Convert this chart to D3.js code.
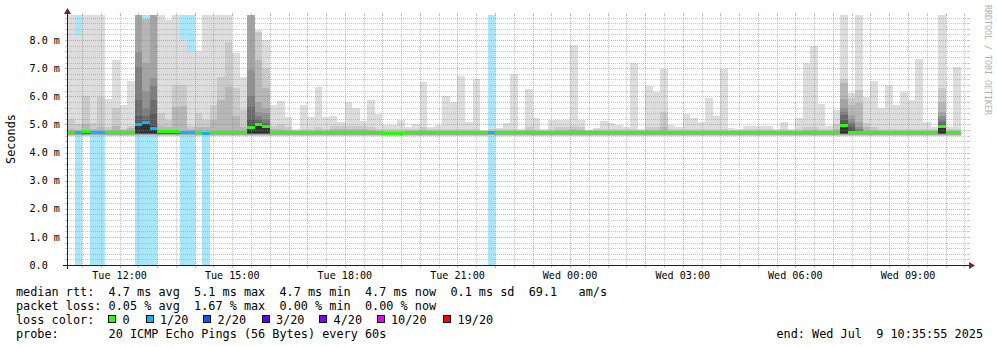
<!DOCTYPE html>
<html>
<head>
<meta charset="utf-8">
<script src="https://cdn.jsdelivr.net/npm/d3@7"></script>
<style>
  html, body { margin: 0; padding: 0; background: #fff; }
  svg { display: block; }
  text { font-family: "DejaVu Sans Mono", monospace; white-space: pre; }
</style>
</head>
<body>
<svg id="chart"></svg>
<script>
// ---- data (ms), one value per 12 minute step, 10:36 Tue -> 10:36 Wed ----
const firstStep = new Date(2025, 6, 8, 10, 36, 0);
const stepMinutes = 12;

// highest ping of each step (top of the lightest smoke)
const rttMax = [
  9.5, 8.18, 9.5, 9.5, 9.5, 5.9, 7.29, 5.69, 6.54, 9.5,
  8.76, 9.5, 9.5, 8.71, 9.5, 8.02, 7.62, 7.62, 9.5, 9.5,
  9.5, 9.5, 7.53, 6.7, 9.5, 8.36, 8.0, 5.69, 5.84, 5.27,
  4.84, 5.69, 5.27, 6.34, 5.27, 5.3, 5.1, 5.8, 5.6, 5.12,
  5.87, 5.38, 4.98, 4.98, 5.16, 4.9, 5.0, 6.5, 4.92, 4.98,
  6.0, 5.8, 6.72, 5.1, 6.6, 4.8, 4.9, 4.88, 5.04, 6.79,
  4.84, 6.26, 5.21, 4.84, 5.16, 5.16, 5.16, 7.82, 5.16, 4.8,
  4.88, 5.12, 5.04, 4.98, 4.9, 7.19, 4.84, 6.36, 6.16, 6.97,
  4.98, 4.9, 5.37, 5.21, 5.1, 5.93, 5.3, 6.97, 4.86, 4.83,
  4.95, 4.95, 4.95, 4.95, 4.84, 5.1, 4.83, 5.24, 7.17, 7.8,
  5.72, 4.93, 5.51, 9.5, 6.1, 9.5, 5.98, 6.54, 5.6, 6.4,
  5.69, 6.16, 5.87, 7.32, 5.1, 4.9, 9.5, 4.92, 7.03, null
];
// second highest ping
const rtt19 = [
  5.2, 5.0, 6.0, 5.05, 5.98, 4.9, 5.58, 4.85, 4.95, 9.5,
  8.76, 9.5, 5.4, 5.15, 6.4, 6.4, 4.95, 5.4, 5.15, 5.69,
  6.7, 7.94, 6.3, 5.5, 9.5, 8.3, 7.0, 4.95, 5.0, 4.9,
  4.8, 4.85, 4.82, 4.9, 4.82, 4.95, 4.95, 4.95, 4.95, 4.95,
  4.9, 4.85, 4.82, 4.82, 4.85, 4.82, 4.82, 4.9, 4.82, 4.82,
  4.85, 4.85, 4.85, 4.85, 4.85, 4.78, 4.82, 4.82, 4.85, 4.85,
  4.8, 4.9, 4.82, 4.8, 4.85, 4.9, 4.9, 4.95, 4.9, 4.8,
  4.82, 4.85, 4.82, 4.82, 4.82, 4.85, 4.8, 4.9, 4.9, 5.45,
  4.82, 4.82, 4.85, 4.82, 4.82, 4.85, 4.82, 4.85, 4.8, 4.8,
  4.85, 4.85, 4.85, 4.85, 4.8, 4.85, 4.8, 4.85, 4.9, 4.9,
  4.85, 4.82, 5.0, 6.6, 5.95, 6.22, 5.05, 4.9, 4.85, 4.85,
  4.85, 4.85, 4.85, 4.85, 4.82, 4.82, 6.3, 4.82, 4.85, null
];
// third highest ping
const rtt18 = [
  4.85, 4.8, 5.0, 4.85, 4.9, 4.8, 4.95, 4.8, 4.87, 9.5,
  8.75, 9.5, 4.95, 4.9, 5.63, 5.65, 4.85, 4.9, 4.9, 5.15,
  5.87, 6.34, 5.3, 4.9, 9.5, 7.29, 6.3, 4.85, 4.85, 4.8,
  4.76, 4.78, 4.76, 4.8, 4.76, 4.82, 4.85, 4.85, 4.85, 4.82,
  4.8, 4.78, 4.76, 4.76, 4.78, 4.76, 4.76, 4.8, 4.76, 4.76,
  4.78, 4.78, 4.78, 4.78, 4.78, 4.75, 4.76, 4.76, 4.78, 4.78,
  4.76, 4.8, 4.76, 4.76, 4.78, 4.8, 4.8, 4.82, 4.8, 4.76,
  4.76, 4.78, 4.76, 4.76, 4.76, 4.78, 4.76, 4.8, 4.8, 4.9,
  4.76, 4.76, 4.78, 4.76, 4.76, 4.78, 4.76, 4.78, 4.76, 4.76,
  4.78, 4.78, 4.78, 4.78, 4.76, 4.78, 4.76, 4.78, 4.8, 4.8,
  4.78, 4.76, 4.85, 6.48, 5.69, 5.76, 4.9, 4.8, 4.78, 4.78,
  4.78, 4.78, 4.78, 4.78, 4.76, 4.76, 5.8, 4.76, 4.78, null
];
// steps where many pings were slow: pings 17 .. 11 (inner smoke)
const darkCols = [9, 10, 11, 24, 25, 26, 103, 104, 105, 116];
const darkRtt = [
  [9.5, 7.58, 7.05, 5.87, 5.3, 5.05, 5.0],
  [7.2, 6.2, 5.6, 5.3, 5.15, 5.08, 5.06],
  [9.5, 6.64, 6.36, 5.87, 5.4, 4.95, 4.9],
  [9.5, 6.93, 6.0, 5.63, 5.2, 4.98, 4.92],
  [5.8, 5.45, 5.3, 5.2, 5.1, 5.05, 5.02],
  [5.6, 5.4, 5.2, 5.05, 5.0, 4.95, 4.93],
  [5.9, 5.58, 5.45, 5.33, 5.15, 5.02, 4.98],
  [5.33, 5.2, 5.1, 5.0, 4.9, 4.8, 4.75],
  [5.1, 4.9, 4.82, 4.78, 4.75, 4.73, 4.72],
  [5.45, 5.3, 5.2, 5.1, 5.0, 4.96, 4.94]
];
// typical lowest pings 1 .. 10
const bandLow = [4.57, 4.6, 4.63, 4.64, 4.645, 4.65, 4.66, 4.67, 4.68, 4.69];

const median = [
  4.7, 4.72, 4.74, 4.7, 4.7, 4.7, 4.71, 4.72, 4.72, 4.98,
  5.06, 4.85, 4.73, 4.73, 4.73, 4.7, 4.7, 4.7, 4.69, 4.7,
  4.7, 4.7, 4.7, 4.7, 4.88, 5.0, 4.92, 4.72, 4.72, 4.71,
  4.7, 4.7, 4.7, 4.7, 4.7, 4.7, 4.7, 4.7, 4.7, 4.7,
  4.7, 4.7, 4.69, 4.69, 4.69, 4.7, 4.7, 4.7, 4.7, 4.7,
  4.7, 4.7, 4.7, 4.7, 4.7, 4.7, 4.7, 4.7, 4.7, 4.7,
  4.7, 4.7, 4.7, 4.7, 4.7, 4.7, 4.7, 4.71, 4.7, 4.7,
  4.7, 4.7, 4.7, 4.7, 4.7, 4.7, 4.7, 4.7, 4.7, 4.7,
  4.7, 4.7, 4.7, 4.7, 4.7, 4.7, 4.7, 4.7, 4.7, 4.7,
  4.7, 4.7, 4.7, 4.7, 4.7, 4.7, 4.7, 4.7, 4.7, 4.7,
  4.7, 4.7, 4.7, 4.95, 4.7, 4.72, 4.7, 4.7, 4.7, 4.7,
  4.7, 4.7, 4.7, 4.7, 4.7, 4.7, 4.93, 4.7, 4.7, null
];
// lost pings out of 20
const loss = [
  0, 1, 0, 1, 1, 0, 0, 0, 0, 1,
  1, 1, 0, 0, 0, 1, 1, 0, 1, 0,
  0, 0, 0, 0, 0, 0, 0, 0, 0, 0,
  0, 0, 0, 0, 0, 0, 0, 0, 0, 0,
  0, 0, 0, 0, 0, 0, 0, 0, 0, 0,
  0, 0, 0, 0, 0, 0, 1, 0, 0, 0,
  0, 0, 0, 0, 0, 0, 0, 0, 0, 0,
  0, 0, 0, 0, 0, 0, 0, 0, 0, 0,
  0, 0, 0, 0, 0, 0, 0, 0, 0, 0,
  0, 0, 0, 0, 0, 0, 0, 0, 0, 0,
  0, 0, 0, 0, 0, 0, 0, 0, 0, 0,
  0, 0, 0, 0, 0, 0, 0, 0, 0, null
];

const lossLevels = [0, 1, 2, 3, 4, 10, 19];
const lossLabels = ["0", "1/20", "2/20", "3/20", "4/20", "10/20", "19/20"];
const lossColors = ["#26ff00", "#00b8ff", "#0059ff", "#5e00ff", "#7e00ff", "#dd00ff", "#ff0000"];

const yTickValues = [0, 1, 2, 3, 4, 5, 6, 7, 8];
const yTickLabels = ["0.0", "1.0 m", "2.0 m", "3.0 m", "4.0 m", "5.0 m", "6.0 m", "7.0 m", "8.0 m"];

const legendLines = [
  "median rtt:  4.7 ms avg  5.1 ms max  4.7 ms min  4.7 ms now  0.1 ms sd  69.1   am/s",
  "packet loss: 0.05 % avg  1.67 % max  0.00 % min  0.00 % now",
  "loss color:",
  "probe:       20 ICMP Echo Pings (56 Bytes) every 60s"
];
const endLabel = "end: Wed Jul  9 10:35:55 2025";

// ---- layout ----
const W = 997, H = 347;
const X0 = 67, X1 = 968, Y0 = 265, Y1 = 15;
const tStart = new Date(2025, 6, 8, 10, 35, 55);
const tEnd = new Date(2025, 6, 9, 10, 35, 55);
const legendFont = "11.83px";

const svg = d3.select("#chart").attr("width", W).attr("height", H);

const x = d3.scaleTime().domain([tStart, tEnd]).range([X0, X1]);
const y = d3.scaleLinear().domain([0, 8.889]).range([Y0, Y1]);
const lossColor = d3.scaleThreshold().domain(lossLevels.slice(1)).range(lossColors);

svg.append("defs").append("clipPath").attr("id", "plot")
  .append("rect").attr("x", X0).attr("y", Y1).attr("width", X1 - X0).attr("height", Y0 - Y1);

const steps = rttMax.map((v, i) => {
  const t0 = d3.timeMinute.offset(firstStep, i * stepMinutes);
  const t1 = d3.timeMinute.offset(firstStep, (i + 1) * stepMinutes);
  return { i, t0, t1, max: v, med: median[i], loss: loss[i] };
}).filter(d => d.max != null);

const plot = svg.append("g").attr("clip-path", "url(#plot)").attr("shape-rendering", "crispEdges");

// loss background
plot.selectAll("rect.lossbg")
  .data(steps.filter(d => d.loss > 0))
  .join("rect")
  .attr("class", "lossbg")
  .attr("x", d => x(d.t0))
  .attr("width", d => x(d.t1) - x(d.t0))
  .attr("y", Y1)
  .attr("height", Y0 - Y1)
  .attr("fill", "#a8e6fc");

// smoke: band b spans ping b .. ping (21-b), inner bands darker
const bandGray = d3.range(1, 11).map(b => {
  const g = Math.floor(190 / 10 * (10 - b)) + 50;
  return d3.rgb(g, g, g).formatHex();
});

const bands = [];
steps.forEach(d => {
  const k = darkCols.indexOf(d.i);
  for (let b = 0; b < 10; b++) {
    let hi;
    if (b === 0) hi = rttMax[d.i];
    else if (b === 1) hi = rtt19[d.i];
    else if (b === 2) hi = rtt18[d.i];
    else hi = k >= 0 ? darkRtt[k][b - 3] : d.med;
    const lo = bandLow[b];
    if (hi > lo) bands.push({ d, b, lo, hi });
  }
});

plot.selectAll("rect.smoke")
  .data(bands)
  .join("rect")
  .attr("class", "smoke")
  .attr("x", s => x(s.d.t0))
  .attr("width", s => x(s.d.t1) - x(s.d.t0))
  .attr("y", s => y(s.hi))
  .attr("height", s => y(s.lo) - y(s.hi))
  .attr("fill", s => bandGray[s.b]);

// ---- grid ----
const grid = svg.append("g").attr("shape-rendering", "crispEdges");
const minorCol = "rgba(143,143,143,0.5)";
const majorCol = "rgba(222,79,79,0.5)";

const hMinor = d3.range(1, 45).map(k => k / 5).filter(v => Math.abs(v - Math.round(v)) > 0.01);
const hMajor = yTickValues.slice(1);
const vMinor = d3.timeMinute.every(30).range(tStart, tEnd).filter(t => t.getMinutes() === 30);
const vMajor = d3.timeHour.every(1).range(tStart, tEnd);

function hLines(vals, col) {
  vals.forEach(v => {
    const yy = Math.round(y(v)) + 0.5;
    grid.append("line").attr("x1", X0).attr("x2", X1).attr("y1", yy).attr("y2", yy)
      .attr("stroke", col).attr("stroke-dasharray", "1,1");
    grid.append("line").attr("x1", X0 - 2).attr("x2", X0).attr("y1", yy).attr("y2", yy).attr("stroke", col);
    grid.append("line").attr("x1", X1).attr("x2", X1 + 2).attr("y1", yy).attr("y2", yy).attr("stroke", col);
  });
}
function vLines(vals, col) {
  vals.forEach(t => {
    const xx = Math.round(x(t)) + 0.5;
    grid.append("line").attr("x1", xx).attr("x2", xx).attr("y1", Y1).attr("y2", Y0)
      .attr("stroke", col).attr("stroke-dasharray", "1,1");
    grid.append("line").attr("x1", xx).attr("x2", xx).attr("y1", Y1 - 2).attr("y2", Y1).attr("stroke", col);
    grid.append("line").attr("x1", xx).attr("x2", xx).attr("y1", Y0).attr("y2", Y0 + 3).attr("stroke", col);
  });
}
hLines(hMinor, minorCol);
vLines(vMinor, minorCol);
hLines(hMajor, majorCol);
vLines(vMajor, majorCol);

// median, coloured by loss
svg.append("g").attr("clip-path", "url(#plot)").attr("shape-rendering", "crispEdges")
  .selectAll("rect")
  .data(steps)
  .join("rect")
  .attr("x", d => x(d.t0))
  .attr("width", d => x(d.t1) - x(d.t0))
  .attr("y", d => y(d.med) - 1.5)
  .attr("height", 3)
  .attr("fill", d => lossColor(d.loss));

// ---- axes ----
const axisCol = "#1f1f1f";
const arrowCol = "#801f1f";
svg.append("line").attr("x1", X0 - 4).attr("x2", X1 + 1).attr("y1", Y0 + 0.5).attr("y2", Y0 + 0.5)
  .attr("stroke", axisCol).attr("shape-rendering", "crispEdges");
svg.append("line").attr("x1", X0 + 0.5).attr("x2", X0 + 0.5).attr("y1", Y0 + 4).attr("y2", Y1 - 2)
  .attr("stroke", axisCol).attr("shape-rendering", "crispEdges");
svg.append("path").attr("d", `M${X0 - 3},${Y1 - 1}L${X0 + 4},${Y1 - 1}L${X0 + 0.5},${Y1 - 7}Z`).attr("fill", arrowCol);
svg.append("path").attr("d", `M${X1 + 1},${Y0 - 3}L${X1 + 1},${Y0 + 4}L${X1 + 7},${Y0 + 0.5}Z`).attr("fill", arrowCol);

svg.append("g").selectAll("text")
  .data(yTickValues)
  .join("text")
  .attr("x", 29.5)
  .attr("y", v => y(v) + 3.7)
  .attr("font-size", "10.1px")
  .attr("fill", "#000")
  .text((v, i) => yTickLabels[i]);

const fmt = d3.timeFormat("%a %H:%M");
svg.append("g").selectAll("text")
  .data(d3.timeHour.every(3).range(tStart, tEnd))
  .join("text")
  .attr("x", t => x(t))
  .attr("y", 278.7)
  .attr("text-anchor", "middle")
  .attr("font-size", "10.1px")
  .attr("fill", "#000")
  .text(fmt);

svg.append("text")
  .attr("transform", "translate(15,139) rotate(-90)")
  .attr("text-anchor", "middle")
  .attr("font-size", legendFont)
  .attr("fill", "#000")
  .text("Seconds");

svg.append("text")
  .attr("transform", "translate(985,5) rotate(90)")
  .attr("font-size", "8.3px")
  .attr("fill", "#b0b0b0")
  .text("RRDTOOL / TOBI OETIKER");

// ---- legend ----
const legendY = [295.9, 309.9, 323.6, 337.6];
svg.append("g").selectAll("text")
  .data(legendLines)
  .join("text")
  .attr("x", 16)
  .attr("y", (s, i) => legendY[i])
  .attr("font-size", legendFont)
  .attr("fill", "#000")
  .text(s => s);

const boxX = [108.3, 145.7, 203.3, 261.7, 319.3, 376.7, 443.3];
const lg = svg.append("g");
lg.selectAll("rect")
  .data(lossColors)
  .join("rect")
  .attr("x", (c, i) => boxX[i] + 0.5)
  .attr("y", 315.5)
  .attr("width", 7)
  .attr("height", 7)
  .attr("fill", c => c)
  .attr("stroke", "#000")
  .attr("shape-rendering", "crispEdges");
lg.selectAll("text")
  .data(lossLabels)
  .join("text")
  .attr("x", (s, i) => boxX[i] + 14.3)
  .attr("y", legendY[2])
  .attr("font-size", legendFont)
  .attr("fill", "#000")
  .text(s => s);

svg.append("text")
  .attr("x", 776.5)
  .attr("y", legendY[3])
  .attr("font-size", legendFont)
  .attr("fill", "#000")
  .text(endLabel);
</script>
</body>
</html>
